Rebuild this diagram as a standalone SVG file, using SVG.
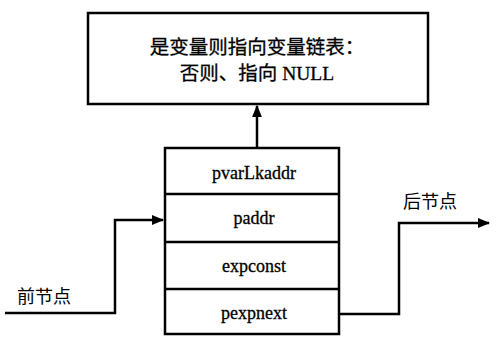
<svg xmlns="http://www.w3.org/2000/svg" width="499" height="337" viewBox="0 0 499 337">
<defs>
<style>
.box{fill:#fff;stroke:#000;stroke-width:2.5}
.line{fill:none;stroke:#000;stroke-width:2.5}
.t{font-family:"Liberation Serif","Noto Sans CJK SC",serif;font-size:18px;fill:#000;stroke:#000;stroke-width:0.3;text-anchor:middle}
.h{font-size:19.5px}
.c{font-family:"Noto Sans CJK SC",sans-serif;font-size:18px;fill:#000}
</style>
<marker id="ah" viewBox="0 0 10 10" refX="9" refY="5" markerWidth="5" markerHeight="5" orient="auto" markerUnits="strokeWidth">
<path d="M0,1 L10,5 L0,9 z" fill="#000"/>
</marker>
</defs>
<rect width="499" height="337" fill="#fff"/>
<g id="note">
<rect class="box" x="88" y="13" width="340" height="91"/>
<text class="t h" x="257" y="54">是变量则指向变量链表：</text>
<text class="t h" x="257" y="80">否则、指向 NULL</text>
</g>
<g id="node">
<rect class="box" x="165" y="148" width="174" height="186"/>
<line class="line" x1="165" y1="194" x2="339" y2="194"/>
<line class="line" x1="165" y1="242" x2="339" y2="242"/>
<line class="line" x1="165" y1="289" x2="339" y2="289"/>
<text class="t" x="254" y="179">pvarLkaddr</text>
<text class="t" x="254" y="224">paddr</text>
<text class="t" x="254" y="272">expconst</text>
<text class="t" x="254" y="319">pexpnext</text>
</g>
<g id="labels">
<text class="c" x="17" y="303">前节点</text>
<text class="c" x="403" y="208">后节点</text>
</g>
<g id="connectors">
<line class="line" x1="257" y1="148" x2="257" y2="106" marker-end="url(#ah)"/>
<polyline class="line" points="5,313 115,313 115,220 163,220" marker-end="url(#ah)"/>
<polyline class="line" points="339,314 399,314 399,223 489,223" marker-end="url(#ah)"/>
</g>
</svg>
